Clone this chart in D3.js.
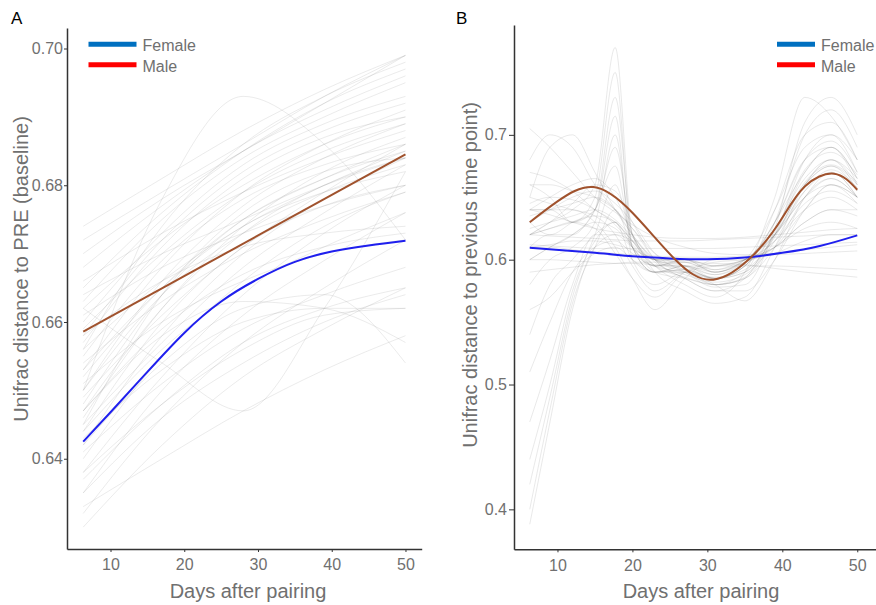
<!DOCTYPE html>
<html lang="en">
<head>
<meta charset="UTF-8">
<title>Unifrac distance</title>
<style>
  body { margin: 0; background: #fff; }
  svg { display: block; font-family: "Liberation Sans", Arial, sans-serif; }
  .tick text { fill: #707070; font-size: 16px; }
  .axis path, .axis line { stroke: #333; }
  .axis path { stroke-width: 1.5px; }
  .title { fill: #707070; font-size: 20px; text-anchor: middle; }
  .legend text { fill: #707070; font-size: 16px; }
  .tag { fill: #000; font-size: 17px; }
</style>
</head>
<body>
<script src="https://d3js.org/d3.v7.min.js"></script>
<script>
// ---- panel A data: distance to PRE (baseline)
var daysA = [6.3, 17, 28, 39, 50]
var greyA = [
  [0.6300, 0.6420, 0.6520, 0.6590, 0.6650],
  [0.6320, 0.6460, 0.6570, 0.6650, 0.6720],
  [0.6330, 0.6400, 0.6470, 0.6530, 0.6580],
  [0.6350, 0.6500, 0.6610, 0.6690, 0.6760],
  [0.6370, 0.6480, 0.6570, 0.6620, 0.6650],
  [0.6380, 0.6520, 0.6640, 0.6730, 0.6800],
  [0.6400, 0.6550, 0.6660, 0.6740, 0.6790],
  [0.6410, 0.6510, 0.6590, 0.6640, 0.6680],
  [0.6420, 0.6580, 0.6700, 0.6780, 0.6840],
  [0.6430, 0.6530, 0.6600, 0.6620, 0.6620],
  [0.6440, 0.6600, 0.6710, 0.6770, 0.6800],
  [0.6450, 0.6570, 0.6680, 0.6760, 0.6830],
  [0.6460, 0.6620, 0.6740, 0.6820, 0.6870],
  [0.6470, 0.6590, 0.6670, 0.6710, 0.6730],
  [0.6480, 0.6640, 0.6750, 0.6810, 0.6850],
  [0.6490, 0.6610, 0.6710, 0.6790, 0.6860],
  [0.6500, 0.6660, 0.6770, 0.6840, 0.6890],
  [0.6510, 0.6600, 0.6660, 0.6700, 0.6720],
  [0.6520, 0.6650, 0.6750, 0.6810, 0.6860],
  [0.6530, 0.6680, 0.6790, 0.6860, 0.6910],
  [0.6540, 0.6630, 0.6700, 0.6750, 0.6790],
  [0.6550, 0.6690, 0.6780, 0.6830, 0.6860],
  [0.6560, 0.6660, 0.6740, 0.6800, 0.6850],
  [0.6570, 0.6710, 0.6810, 0.6870, 0.6900],
  [0.6580, 0.6660, 0.6710, 0.6730, 0.6740],
  [0.6590, 0.6700, 0.6790, 0.6850, 0.6890],
  [0.6600, 0.6730, 0.6830, 0.6890, 0.6930],
  [0.6610, 0.6680, 0.6730, 0.6770, 0.6800],
  [0.6620, 0.6720, 0.6800, 0.6860, 0.6900],
  [0.6630, 0.6750, 0.6840, 0.6900, 0.6950],
  [0.6640, 0.6700, 0.6750, 0.6800, 0.6840],
  [0.6650, 0.6760, 0.6850, 0.6920, 0.6970],
  [0.6660, 0.6730, 0.6790, 0.6840, 0.6880],
  [0.6680, 0.6770, 0.6850, 0.6910, 0.6960],
  [0.6700, 0.6780, 0.6850, 0.6920, 0.6990],
  [0.6720, 0.6790, 0.6860, 0.6930, 0.6990],
  [0.6740, 0.6810, 0.6880, 0.6940, 0.6990],
  [0.6420, 0.6540, 0.6620, 0.6640, 0.6540],
  [0.6470, 0.6580, 0.6630, 0.6620, 0.6570],
  [0.6380, 0.6480, 0.6560, 0.6610, 0.6620],
  [0.6500, 0.6780, 0.6930, 0.6860, 0.6720],
  [0.6620, 0.6540, 0.6470, 0.6620, 0.6820],
  [0.6350, 0.6460, 0.6540, 0.6600, 0.6640],
  [0.6450, 0.6640, 0.6760, 0.6820, 0.6840],
  [0.6560, 0.6740, 0.6860, 0.6930, 0.6980],
  [0.6470, 0.6620, 0.6730, 0.6800, 0.6840],
  [0.6500, 0.6640, 0.6730, 0.6790, 0.6830],
  [0.6530, 0.6650, 0.6740, 0.6790, 0.6820],
  [0.6440, 0.6560, 0.6650, 0.6710, 0.6760],
  [0.6580, 0.6720, 0.6820, 0.6880, 0.6920]
]
var fitDaysA = [6.3, 10, 15, 20, 25, 30, 35, 40, 45, 50]
var femaleA = [0.6425, 0.6468, 0.6527, 0.6584, 0.6630, 0.6663, 0.6688, 0.6703, 0.6712, 0.6719]
var maleDaysA = [6.3, 50]
var maleA = [0.6586, 0.6845]
var yTicksA = [0.64, 0.66, 0.68, 0.70]

// ---- panel B data: distance to previous time point
var daysB = [6.3, 9, 12, 15, 17.7, 20, 23, 27, 31, 35, 39, 43, 46.5, 50]
var greyB = [
  [0.620, 0.630, 0.640, 0.660, 0.770, 0.620, 0.595, 0.600, 0.590, 0.600, 0.640, 0.690, 0.700, 0.670],
  [0.640, 0.640, 0.630, 0.650, 0.750, 0.610, 0.590, 0.595, 0.585, 0.595, 0.630, 0.680, 0.690, 0.665],
  [0.600, 0.610, 0.620, 0.640, 0.730, 0.620, 0.600, 0.600, 0.595, 0.600, 0.620, 0.660, 0.675, 0.660],
  [0.660, 0.650, 0.630, 0.640, 0.715, 0.600, 0.580, 0.590, 0.580, 0.590, 0.640, 0.700, 0.710, 0.680],
  [0.580, 0.600, 0.610, 0.630, 0.700, 0.610, 0.590, 0.595, 0.590, 0.600, 0.625, 0.665, 0.680, 0.655],
  [0.630, 0.620, 0.630, 0.640, 0.690, 0.620, 0.600, 0.598, 0.592, 0.598, 0.610, 0.640, 0.660, 0.650],
  [0.610, 0.620, 0.620, 0.640, 0.675, 0.610, 0.590, 0.590, 0.585, 0.595, 0.630, 0.670, 0.690, 0.660],
  [0.388, 0.470, 0.560, 0.610, 0.620, 0.615, 0.600, 0.600, 0.592, 0.600, 0.610, 0.630, 0.640, 0.640],
  [0.400, 0.480, 0.565, 0.610, 0.640, 0.610, 0.595, 0.600, 0.590, 0.600, 0.620, 0.650, 0.660, 0.650],
  [0.420, 0.490, 0.570, 0.620, 0.660, 0.615, 0.600, 0.595, 0.588, 0.598, 0.615, 0.640, 0.650, 0.640],
  [0.440, 0.500, 0.575, 0.615, 0.630, 0.600, 0.590, 0.592, 0.585, 0.595, 0.625, 0.660, 0.675, 0.655],
  [0.470, 0.520, 0.580, 0.620, 0.620, 0.610, 0.600, 0.600, 0.595, 0.600, 0.610, 0.625, 0.630, 0.625],
  [0.510, 0.550, 0.590, 0.610, 0.615, 0.605, 0.595, 0.598, 0.590, 0.598, 0.615, 0.645, 0.655, 0.645],
  [0.540, 0.580, 0.600, 0.620, 0.630, 0.610, 0.595, 0.595, 0.588, 0.598, 0.630, 0.680, 0.695, 0.670],
  [0.560, 0.570, 0.590, 0.605, 0.610, 0.600, 0.590, 0.592, 0.585, 0.595, 0.620, 0.655, 0.670, 0.650],
  [0.610, 0.610, 0.608, 0.606, 0.605, 0.604, 0.603, 0.602, 0.602, 0.603, 0.604, 0.605, 0.606, 0.607],
  [0.620, 0.619, 0.618, 0.617, 0.616, 0.615, 0.615, 0.615, 0.616, 0.617, 0.618, 0.619, 0.620, 0.620],
  [0.600, 0.600, 0.599, 0.598, 0.597, 0.597, 0.596, 0.595, 0.595, 0.595, 0.595, 0.594, 0.593, 0.592],
  [0.640, 0.636, 0.630, 0.625, 0.622, 0.620, 0.618, 0.617, 0.617, 0.618, 0.620, 0.622, 0.624, 0.625],
  [0.590, 0.592, 0.594, 0.596, 0.597, 0.598, 0.598, 0.598, 0.597, 0.596, 0.593, 0.590, 0.588, 0.586],
  [0.705, 0.690, 0.670, 0.650, 0.638, 0.628, 0.618, 0.610, 0.605, 0.604, 0.605, 0.608, 0.610, 0.612],
  [0.612, 0.611, 0.610, 0.609, 0.609, 0.609, 0.609, 0.609, 0.609, 0.610, 0.611, 0.612, 0.613, 0.614],
  [0.650, 0.690, 0.700, 0.670, 0.640, 0.620, 0.600, 0.590, 0.580, 0.585, 0.620, 0.680, 0.700, 0.680],
  [0.680, 0.700, 0.690, 0.660, 0.640, 0.625, 0.605, 0.595, 0.585, 0.590, 0.620, 0.670, 0.690, 0.665],
  [0.660, 0.660, 0.655, 0.650, 0.640, 0.625, 0.600, 0.585, 0.575, 0.585, 0.630, 0.700, 0.720, 0.690],
  [0.630, 0.640, 0.650, 0.655, 0.645, 0.630, 0.605, 0.590, 0.578, 0.580, 0.625, 0.710, 0.730, 0.700],
  [0.620, 0.625, 0.630, 0.635, 0.630, 0.615, 0.595, 0.580, 0.570, 0.590, 0.650, 0.730, 0.715, 0.680],
  [0.640, 0.650, 0.660, 0.665, 0.650, 0.620, 0.590, 0.575, 0.565, 0.570, 0.610, 0.660, 0.680, 0.660],
  [0.600, 0.610, 0.620, 0.630, 0.625, 0.610, 0.590, 0.585, 0.580, 0.585, 0.610, 0.650, 0.670, 0.650],
  [0.670, 0.665, 0.655, 0.640, 0.630, 0.615, 0.595, 0.590, 0.585, 0.590, 0.620, 0.660, 0.680, 0.665],
  [0.620, 0.630, 0.645, 0.660, 0.655, 0.630, 0.600, 0.585, 0.575, 0.575, 0.600, 0.640, 0.660, 0.645],
  [0.640, 0.640, 0.640, 0.630, 0.610, 0.585, 0.560, 0.585, 0.600, 0.600, 0.610, 0.630, 0.640, 0.635],
  [0.620, 0.625, 0.630, 0.625, 0.605, 0.585, 0.570, 0.590, 0.598, 0.600, 0.605, 0.615, 0.620, 0.620],
  [0.650, 0.645, 0.640, 0.635, 0.620, 0.595, 0.575, 0.590, 0.595, 0.600, 0.620, 0.650, 0.665, 0.650],
  [0.610, 0.612, 0.615, 0.615, 0.612, 0.608, 0.600, 0.592, 0.580, 0.567, 0.600, 0.650, 0.665, 0.650],
  [0.635, 0.640, 0.645, 0.650, 0.640, 0.620, 0.598, 0.588, 0.582, 0.588, 0.615, 0.655, 0.672, 0.658],
  [0.625, 0.630, 0.635, 0.640, 0.632, 0.618, 0.600, 0.592, 0.586, 0.592, 0.618, 0.662, 0.676, 0.662],
  [0.645, 0.650, 0.648, 0.640, 0.628, 0.612, 0.595, 0.586, 0.580, 0.586, 0.622, 0.672, 0.686, 0.668]
]
var femaleDaysB = [6.3, 15, 20, 25, 30, 35, 40, 45, 50]
var femaleB = [0.6096, 0.6055, 0.6027, 0.6010, 0.6003, 0.6017, 0.6055, 0.6110, 0.6195]
var maleDaysB = [6.3, 10, 14.8, 20, 25.5, 30.8, 36.4, 40, 43, 46.9, 50]
var maleB = [0.6300, 0.6467, 0.6582, 0.6376, 0.6014, 0.5840, 0.6054, 0.6336, 0.6587, 0.6689, 0.6560]
var yTicksB = [0.4, 0.5, 0.6, 0.7]

var xTicks = [10, 20, 30, 40, 50]
var legendKeys = ['Female', 'Male']
var legendColors = ['#0070c0', '#ff0000']

var svg = d3.select('body').append('svg')
    .attr('width', 876)
    .attr('height', 605)

function drawPanel (p) {
    var x = d3.scaleLinear().domain(p.xDomain).range([p.left, p.right])
    var y = d3.scaleLinear().domain(p.yDomain).range([p.bottom, p.top])
    var g = svg.append('g')

    var line = function (days, curve) {
        return d3.line()
            .x((d, i) => x(days[i]))
            .y(d => y(d))
            .curve(curve)
    }

    g.selectAll('.grey')
        .data(p.grey)
        .enter()
        .append('path')
        .attr('class', 'grey')
        .attr('fill', 'none')
        .attr('stroke', 'rgba(110,110,110,' + p.greyAlpha + ')')
        .attr('stroke-width', 1)
        .attr('d', line(p.greyDays, d3.curveMonotoneX))

    g.append('path')
        .attr('fill', 'none')
        .attr('stroke', '#1f1fee')
        .attr('stroke-width', 2)
        .attr('d', line(p.femaleDays, d3.curveNatural)(p.female))
    g.append('path')
        .attr('fill', 'none')
        .attr('stroke', '#a0522d')
        .attr('stroke-width', 2)
        .attr('d', line(p.maleDays, d3.curveNatural)(p.male))

    g.append('g')
        .attr('class', 'axis')
        .attr('transform', 'translate(0,' + p.bottom + ')')
        .call(d3.axisBottom(x).tickValues(xTicks).tickSizeInner(3).tickSizeOuter(0).tickPadding(7))
    g.append('g')
        .attr('class', 'axis')
        .attr('transform', 'translate(' + p.left + ',0)')
        .call(d3.axisLeft(y).tickValues(p.yTicks).tickFormat(d3.format(p.yFormat))
            .tickSizeInner(p.tickLen).tickSizeOuter(0).tickPadding(p.tickPad))
    g.selectAll('.axis .tick text').attr('font-family', null).attr('font-size', null)

    g.append('text')
        .attr('class', 'title')
        .attr('x', p.xTitleX)
        .attr('y', 598)
        .text('Days after pairing')
    g.append('text')
        .attr('class', 'title')
        .attr('transform', 'translate(' + p.yTitleX + ',' + p.yTitleY + ') rotate(-90)')
        .text(p.yTitle)
    g.append('text')
        .attr('class', 'tag')
        .attr('x', p.tagX)
        .attr('y', 24)
        .text(p.tag)

    var lg = g.append('g').attr('class', 'legend')
    legendKeys.forEach((k, i) => {
        var ly = 44.3 + i * 20.5
        lg.append('line')
            .attr('x1', p.legX).attr('x2', p.legX + p.legLen)
            .attr('y1', ly).attr('y2', ly)
            .attr('stroke', legendColors[i])
            .attr('stroke-width', 5)
        lg.append('text')
            .attr('x', p.legX + p.legLen + 6)
            .attr('y', ly + 6.8)
            .text(k)
    })
}

drawPanel({
    left: 67, right: 421.7, top: 28, bottom: 549,
    xDomain: [4.1, 52.2], yDomain: [0.6268, 0.703],
    grey: greyA, greyDays: daysA, greyAlpha: 0.14,
    female: femaleA, femaleDays: fitDaysA,
    male: maleA, maleDays: maleDaysA,
    yTicks: yTicksA, yFormat: '.2f', tickLen: 3, tickPad: 1,
    xTitleX: 248, yTitleX: 27.5, yTitleY: 269,
    yTitle: 'Unifrac distance to PRE (baseline)',
    tag: 'A', tagX: 11, legX: 88.5, legLen: 48
})

drawPanel({
    left: 514, right: 876, top: 25, bottom: 549.3,
    xDomain: [4.2, 52.5], yDomain: [0.368, 0.788],
    grey: greyB, greyDays: daysB, greyAlpha: 0.15,
    female: femaleB, femaleDays: femaleDaysB,
    male: maleB, maleDays: maleDaysB,
    yTicks: yTicksB, yFormat: '.1f', tickLen: 5, tickPad: 2,
    xTitleX: 701, yTitleX: 477, yTitleY: 275,
    yTitle: 'Unifrac distance to previous time point)',
    tag: 'B', tagX: 456, legX: 777, legLen: 38
})
</script>
</body>
</html>
